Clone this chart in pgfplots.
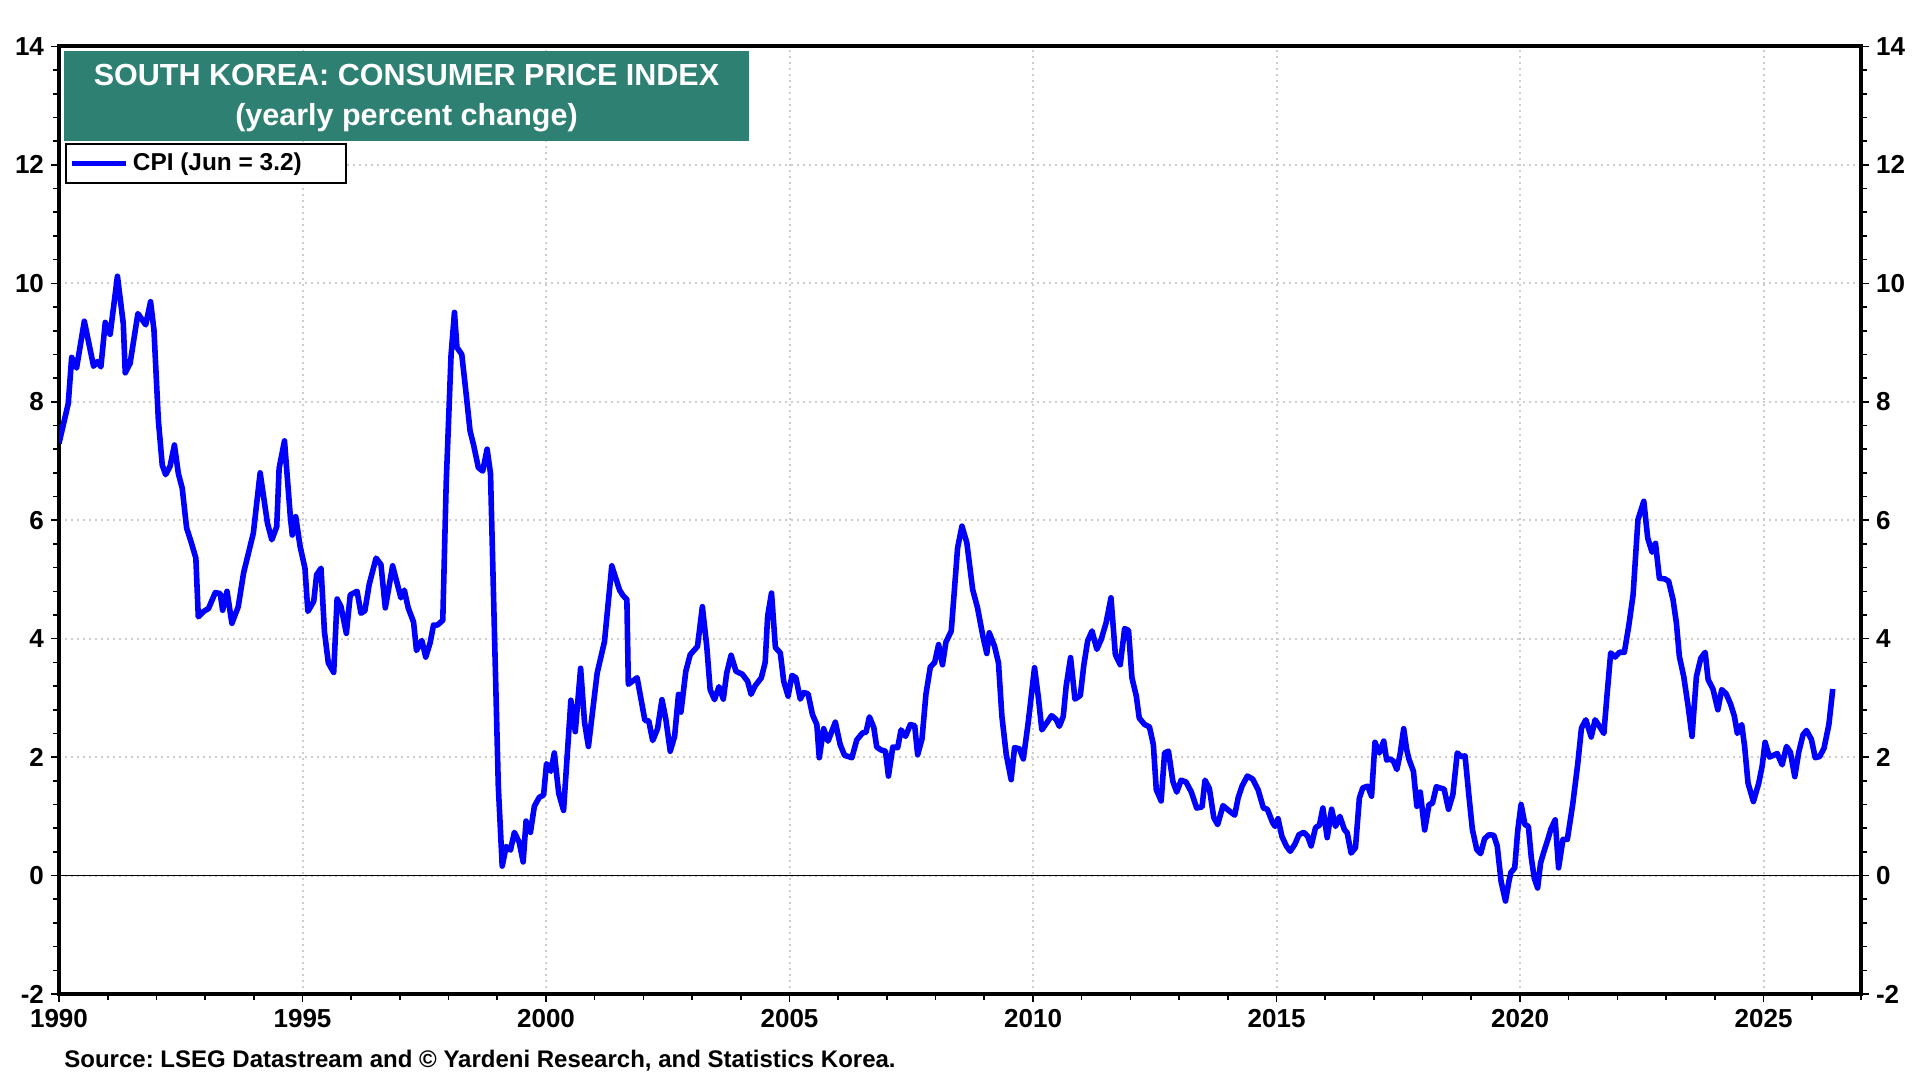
\documentclass[border=0pt]{standalone}
\usepackage{pgfplots}
\pgfplotsset{compat=1.18}
\usepackage{fontspec}
\setmainfont{Liberation Sans}
\frenchspacing
\definecolor{cpiblue}{RGB}{0,0,255}
\definecolor{titleteal}{RGB}{46,128,115}
\definecolor{gridgray}{RGB}{205,205,205}

\pgfplotstableread{
x y
1990.00 7.30
1990.19 7.97
1990.26 8.75
1990.36 8.57
1990.52 9.36
1990.71 8.60
1990.79 8.68
1990.86 8.59
1990.95 9.34
1991.05 9.14
1991.20 10.12
1991.32 9.32
1991.36 8.49
1991.46 8.65
1991.62 9.49
1991.78 9.30
1991.88 9.69
1991.95 9.21
1992.04 7.69
1992.12 6.93
1992.19 6.77
1992.28 6.91
1992.37 7.27
1992.45 6.79
1992.53 6.54
1992.62 5.87
1992.71 5.64
1992.81 5.36
1992.86 4.37
1992.97 4.46
1993.07 4.51
1993.21 4.78
1993.31 4.76
1993.36 4.48
1993.45 4.80
1993.55 4.26
1993.68 4.54
1993.79 5.11
1993.99 5.78
1994.13 6.80
1994.28 5.95
1994.37 5.67
1994.47 5.89
1994.52 6.88
1994.63 7.34
1994.75 6.06
1994.79 5.75
1994.86 6.06
1994.95 5.56
1995.05 5.19
1995.11 4.46
1995.23 4.63
1995.29 5.08
1995.38 5.19
1995.45 4.12
1995.53 3.59
1995.64 3.43
1995.71 4.67
1995.79 4.54
1995.90 4.09
1995.98 4.74
1996.12 4.80
1996.20 4.43
1996.28 4.47
1996.37 4.92
1996.51 5.36
1996.61 5.25
1996.70 4.52
1996.85 5.23
1997.02 4.69
1997.09 4.82
1997.17 4.52
1997.28 4.28
1997.34 3.80
1997.45 3.97
1997.53 3.69
1997.62 3.93
1997.69 4.23
1997.77 4.23
1997.88 4.31
1997.95 6.62
1998.05 8.79
1998.12 9.51
1998.17 8.92
1998.27 8.80
1998.36 8.13
1998.44 7.51
1998.51 7.28
1998.61 6.89
1998.70 6.83
1998.79 7.20
1998.86 6.79
1998.94 4.13
1999.02 1.51
1999.10 0.16
1999.18 0.49
1999.27 0.43
1999.35 0.73
1999.45 0.56
1999.53 0.23
1999.59 0.92
1999.68 0.73
1999.76 1.17
1999.86 1.32
1999.95 1.36
2000.01 1.89
2000.10 1.76
2000.17 2.07
2000.26 1.39
2000.36 1.10
2000.51 2.96
2000.60 2.43
2000.71 3.50
2000.79 2.59
2000.87 2.18
2001.05 3.42
2001.20 3.95
2001.35 5.23
2001.51 4.82
2001.58 4.73
2001.66 4.66
2001.69 3.23
2001.87 3.34
2002.03 2.62
2002.11 2.61
2002.19 2.28
2002.29 2.48
2002.38 2.97
2002.46 2.64
2002.55 2.10
2002.64 2.35
2002.72 3.06
2002.77 2.76
2002.87 3.45
2002.96 3.73
2003.11 3.87
2003.21 4.54
2003.30 3.87
2003.37 3.14
2003.46 2.97
2003.55 3.19
2003.64 2.98
2003.71 3.42
2003.80 3.72
2003.90 3.45
2004.03 3.40
2004.14 3.28
2004.21 3.06
2004.29 3.20
2004.42 3.34
2004.50 3.60
2004.55 4.38
2004.63 4.77
2004.71 3.85
2004.81 3.76
2004.88 3.28
2004.97 3.03
2005.05 3.38
2005.13 3.34
2005.22 2.98
2005.29 3.09
2005.38 3.07
2005.47 2.72
2005.56 2.55
2005.61 1.99
2005.70 2.48
2005.79 2.27
2005.94 2.59
2006.04 2.21
2006.13 2.03
2006.28 1.99
2006.38 2.29
2006.50 2.41
2006.57 2.42
2006.64 2.68
2006.73 2.50
2006.79 2.17
2006.88 2.12
2006.97 2.10
2007.03 1.68
2007.12 2.17
2007.22 2.16
2007.29 2.46
2007.38 2.35
2007.48 2.55
2007.57 2.53
2007.63 2.04
2007.72 2.31
2007.80 3.06
2007.89 3.52
2007.98 3.60
2008.06 3.90
2008.14 3.56
2008.21 3.94
2008.32 4.13
2008.37 4.66
2008.45 5.53
2008.54 5.90
2008.64 5.62
2008.76 4.83
2008.86 4.52
2008.97 4.04
2009.05 3.75
2009.10 4.10
2009.21 3.87
2009.29 3.59
2009.36 2.69
2009.45 2.04
2009.55 1.62
2009.62 2.16
2009.72 2.14
2009.80 1.97
2009.90 2.58
2010.03 3.51
2010.11 3.00
2010.18 2.46
2010.29 2.59
2010.38 2.70
2010.47 2.64
2010.54 2.52
2010.62 2.69
2010.68 3.20
2010.77 3.68
2010.86 2.98
2010.97 3.04
2011.04 3.54
2011.12 3.96
2011.21 4.13
2011.31 3.82
2011.40 3.99
2011.50 4.27
2011.60 4.69
2011.69 3.73
2011.79 3.56
2011.88 4.17
2011.96 4.14
2012.03 3.34
2012.12 3.03
2012.18 2.66
2012.29 2.55
2012.39 2.51
2012.47 2.21
2012.53 1.45
2012.63 1.26
2012.70 2.07
2012.78 2.10
2012.87 1.59
2012.95 1.41
2013.04 1.61
2013.14 1.58
2013.25 1.41
2013.36 1.14
2013.47 1.16
2013.53 1.61
2013.62 1.47
2013.71 0.98
2013.79 0.86
2013.90 1.18
2014.03 1.09
2014.14 1.02
2014.21 1.31
2014.29 1.51
2014.40 1.68
2014.51 1.63
2014.62 1.45
2014.73 1.14
2014.81 1.12
2014.92 0.89
2014.97 0.83
2015.03 0.96
2015.11 0.66
2015.20 0.50
2015.28 0.41
2015.37 0.52
2015.46 0.69
2015.56 0.73
2015.64 0.66
2015.71 0.50
2015.80 0.81
2015.88 0.85
2015.95 1.14
2016.04 0.64
2016.13 1.12
2016.21 0.83
2016.30 1.00
2016.39 0.78
2016.45 0.72
2016.53 0.38
2016.62 0.47
2016.70 1.31
2016.77 1.48
2016.87 1.51
2016.95 1.34
2017.02 2.25
2017.11 2.07
2017.20 2.27
2017.26 1.95
2017.33 1.97
2017.40 1.93
2017.47 1.79
2017.54 2.07
2017.61 2.48
2017.67 2.13
2017.72 1.96
2017.81 1.76
2017.88 1.17
2017.95 1.41
2018.04 0.77
2018.13 1.20
2018.20 1.22
2018.28 1.50
2018.35 1.48
2018.44 1.46
2018.53 1.12
2018.62 1.37
2018.71 2.07
2018.79 2.01
2018.87 2.02
2018.95 1.34
2019.02 0.78
2019.11 0.44
2019.19 0.37
2019.27 0.62
2019.36 0.69
2019.46 0.68
2019.53 0.50
2019.61 -0.10
2019.70 -0.43
2019.77 -0.10
2019.81 0.05
2019.89 0.13
2019.95 0.75
2020.02 1.20
2020.10 0.86
2020.17 0.83
2020.23 0.30
2020.29 -0.04
2020.36 -0.21
2020.42 0.21
2020.48 0.38
2020.57 0.61
2020.63 0.78
2020.72 0.94
2020.79 0.13
2020.88 0.61
2020.97 0.61
2021.08 1.20
2021.18 1.86
2021.26 2.49
2021.35 2.63
2021.46 2.34
2021.54 2.63
2021.63 2.52
2021.72 2.40
2021.78 3.00
2021.86 3.76
2021.95 3.69
2022.04 3.77
2022.14 3.77
2022.23 4.21
2022.32 4.74
2022.42 6.01
2022.54 6.32
2022.62 5.70
2022.71 5.46
2022.78 5.61
2022.86 5.02
2022.97 5.01
2023.05 4.97
2023.14 4.66
2023.21 4.26
2023.27 3.70
2023.36 3.36
2023.45 2.86
2023.53 2.35
2023.62 3.36
2023.71 3.67
2023.80 3.77
2023.86 3.31
2023.96 3.15
2024.06 2.80
2024.14 3.14
2024.23 3.07
2024.32 2.90
2024.40 2.69
2024.46 2.40
2024.55 2.55
2024.61 2.18
2024.68 1.56
2024.79 1.25
2024.90 1.56
2024.97 1.85
2025.03 2.25
2025.12 2.00
2025.28 2.06
2025.38 1.87
2025.47 2.18
2025.55 2.08
2025.64 1.67
2025.72 2.08
2025.81 2.38
2025.88 2.45
2025.98 2.30
2026.06 1.99
2026.15 2.01
2026.24 2.15
2026.34 2.55
2026.42 3.15
}\cpidata

\begin{document}
\begin{tikzpicture}
\path[use as bounding box] (0,0) rectangle (960pt,540pt);
\begin{axis}[
  at={(29.5pt,43pt)}, anchor=south west,
  width=901pt, height=473.75pt, scale only axis,
  xmin=1990, xmax=2027, ymin=-2, ymax=14,
  xtick={1990,1995,...,2025},
  minor xtick={1991,...,2027},
  ytick={-2,0,...,14},
  minor y tick num=4,
  xtick pos=bottom, ytick pos=left,
  tick align=outside,
  major tick length=4pt, minor tick length=3pt,
  tick style={black, line width=0.8pt},
  axis line style={line width=2pt},
  grid=major,
  major grid style={gridgray, line width=1pt, dash pattern=on 1pt off 2pt},
  /pgf/number format/assume math mode=true,
  /pgf/number format/1000 sep={},
  xticklabel style={font=\fontsize{13}{15}\selectfont\bfseries},
  yticklabel style={font=\fontsize{13}{15}\selectfont\bfseries},
  legend style={at={(0.0033,0.898)}, anchor=north west, draw=black, line width=1pt,
    fill=white, font=\fontsize{12.2}{14}\selectfont\bfseries, inner xsep=2pt, inner ysep=2.5pt},
  legend image code/.code={\draw[cpiblue, line width=2.5pt] (0pt,0pt) -- (27pt,0pt);},
]
\addplot[black, line width=0.5pt, forget plot] coordinates {(1990,0) (2027,0)};
\addplot[cpiblue, line width=2.8pt, line join=round] table[x=x, y=y] {\cpidata};
\addlegendentry{CPI (Jun = 3.2)\hspace*{18pt}\mbox{}}
\end{axis}
\begin{axis}[
  at={(29.5pt,43pt)}, anchor=south west,
  width=901pt, height=473.75pt, scale only axis,
  xmin=1990, xmax=2027, ymin=-2, ymax=14,
  ytick={-2,0,...,14},
  minor y tick num=4,
  axis x line=none, axis y line*=right,
  ytick pos=right, yticklabel pos=right,
  tick align=outside,
  major tick length=4pt, minor tick length=3pt,
  tick style={black, line width=0.8pt},
  axis line style={line width=2pt},
  /pgf/number format/assume math mode=true,
  yticklabel style={font=\fontsize{13}{15}\selectfont\bfseries},
]
\addplot[draw=none] coordinates {(1990,0) (2027,0)};
\end{axis}
\fill[titleteal] (32pt,469.5pt) rectangle (374.5pt,514.5pt);
\node[white, font=\fontsize{15.25}{18}\selectfont\bfseries] at (203.25pt,502.5pt) {SOUTH KOREA: CONSUMER PRICE INDEX};
\node[white, font=\fontsize{15.25}{18}\selectfont\bfseries] at (203.25pt,481.25pt) {(yearly percent change)};
\node[anchor=west, inner sep=0pt, font=\fontsize{12}{14}\selectfont\bfseries] at (32pt,9.75pt) {Source: LSEG Datastream and \textcopyright{} Yardeni Research, and Statistics Korea.};
\end{tikzpicture}
\end{document}
